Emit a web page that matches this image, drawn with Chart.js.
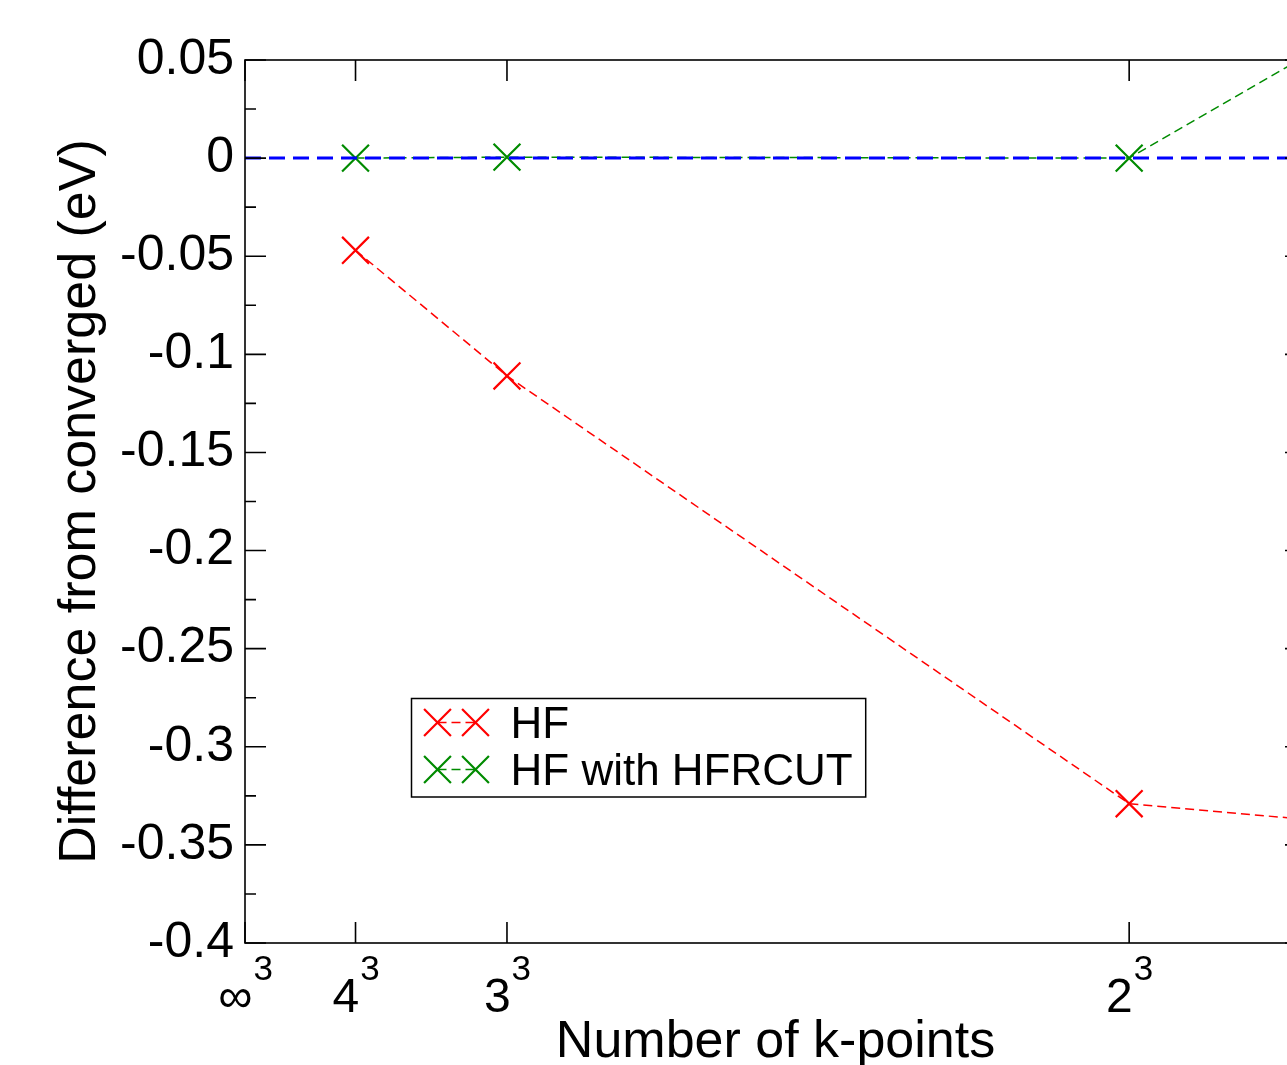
<!DOCTYPE html>
<html><head><meta charset="utf-8">
<script src="https://cdn.jsdelivr.net/npm/chart.js@4/dist/chart.umd.min.js"></script>
<style>
html,body{margin:0;padding:0;background:#fff;overflow:hidden;width:1287px;height:1065px}
canvas{display:block}
</style>
</head><body>
<canvas id="c" width="1320" height="1065" style="width:1320px;height:1065px"></canvas>
<script>
// ---- data ----
const kBase = ['∞', '4', '3', '2'];
const kExp = ['3', '3', '3', '3'];
const kTickX = [0, 0.015625, 0.037037, 0.125];          // 1/k^3
const hfX = [0.015625, 0.037037, 0.125, 1];
const hfY = [-0.047, -0.111, -0.329, -0.61];
const hfcutX = [0.015625, 0.037037, 0.125, 1];
const hfcutY = [0.0, 0.0005, 0.0, 1.82];
const zeroX = [0, 1];
const zeroY = [0, 0];
const yTicks = [-0.4, -0.35, -0.3, -0.25, -0.2, -0.15, -0.1, -0.05, 0, 0.05];
const yTickLabels = ['-0.4', '-0.35', '-0.3', '-0.25', '-0.2', '-0.15', '-0.1', '-0.05', '0', '0.05'];
const seriesLabels = ['HF', 'HF with HFRCUT'];
const xTitle = 'Number of k-points';
const yTitle = 'Difference from converged (eV)';

const FONT = '"Liberation Sans", Arial, Helvetica, sans-serif';
const pts = (xs, ys) => xs.map((x, i) => ({ x: x, y: ys[i] }));

const decor = {
  id: 'decor',
  afterDraw(chart) {
    const { ctx, chartArea: a, scales: { x, y } } = chart;
    ctx.save();
    ctx.strokeStyle = '#000';
    ctx.lineWidth = 1.6;
    ctx.setLineDash([]);
    ctx.strokeRect(a.left, a.top, a.right - a.left, a.bottom - a.top);
    ctx.beginPath();
    yTicks.forEach((v, i) => {
      const py = y.getPixelForValue(v);
      ctx.moveTo(a.left, py); ctx.lineTo(a.left + 21, py);
      ctx.moveTo(a.right, py); ctx.lineTo(a.right - 21, py);
      if (i < yTicks.length - 1) {
        const pm = y.getPixelForValue((v + yTicks[i + 1]) / 2);
        ctx.moveTo(a.left, pm); ctx.lineTo(a.left + 11, pm);
        ctx.moveTo(a.right, pm); ctx.lineTo(a.right - 11, pm);
      }
    });
    kTickX.forEach(v => {
      const px = x.getPixelForValue(v);
      ctx.moveTo(px, a.bottom); ctx.lineTo(px, a.bottom - 21);
      ctx.moveTo(px, a.top); ctx.lineTo(px, a.top + 21);
    });
    ctx.stroke();
    ctx.fillStyle = '#000';
    ctx.textBaseline = 'alphabetic';
    ctx.textAlign = 'left';
    const baseFont = '48px ' + FONT, expFont = '35px ' + FONT;
    kTickX.forEach((v, i) => {
      const px = x.getPixelForValue(v);
      ctx.font = baseFont; const wb = ctx.measureText(kBase[i]).width;
      ctx.font = expFont; const we = ctx.measureText(kExp[i]).width;
      const start = px - (wb + we) / 2;
      ctx.font = baseFont; ctx.fillText(kBase[i], start, a.bottom + 69);
      ctx.font = expFont; ctx.fillText(kExp[i], start + wb + 1, a.bottom + 37);
    });
    const lf = '44px ' + FONT;
    ctx.font = lf;
    const ds = chart.data.datasets.filter(d => d.legendIndex !== undefined)
      .sort((p, q) => p.legendIndex - q.legendIndex);
    let maxW = 0;
    ds.forEach(d => { maxW = Math.max(maxW, ctx.measureText(d.label).width); });
    const bx = a.left + 166.5, by = a.top + 638.5;
    const bw = 99 + maxW + 13, bh = 98.5;
    ctx.fillStyle = '#fff';
    ctx.fillRect(bx, by, bw, bh);
    ctx.strokeStyle = '#000';
    ctx.lineWidth = 1.5;
    ctx.strokeRect(bx, by, bw, bh);
    ds.forEach((d, i) => {
      const cy = by + 24 + i * 47;
      const x1 = bx + 26, x2 = bx + 64;
      ctx.save();
      ctx.strokeStyle = d.borderColor;
      ctx.lineWidth = d.borderWidth;
      ctx.setLineDash(d.borderDash || []);
      ctx.beginPath(); ctx.moveTo(x1, cy); ctx.lineTo(x2, cy); ctx.stroke();
      ctx.setLineDash([]);
      const opt = { pointStyle: d.pointStyle, radius: d.pointRadius, borderWidth: d.pointBorderWidth, rotation: 0 };
      ctx.strokeStyle = d.pointBorderColor; ctx.fillStyle = d.pointBorderColor; ctx.lineWidth = d.pointBorderWidth;
      Chart.helpers.drawPoint(ctx, opt, x1, cy);
      Chart.helpers.drawPoint(ctx, opt, x2, cy);
      ctx.restore();
      ctx.fillStyle = '#000';
      ctx.font = lf;
      ctx.textAlign = 'left';
      ctx.textBaseline = 'alphabetic';
      ctx.fillText(d.label, bx + 99, cy + 15);
    });
    ctx.restore();
  }
};

new Chart(document.getElementById('c'), {
  type: 'scatter',
  data: {
    datasets: [
      {
        label: 'converged', data: pts(zeroX, zeroY), showLine: true,
        borderColor: '#0000ff', borderWidth: 3, borderDash: [16, 8],
        pointRadius: 0, fill: false, order: 0
      },
      {
        label: seriesLabels[1], data: pts(hfcutX, hfcutY), showLine: true,
        borderColor: '#008b00', borderWidth: 1.5, borderDash: [9, 5],
        pointStyle: 'crossRot', pointRadius: 19, pointBorderWidth: 2.2,
        pointBorderColor: '#008b00', pointBackgroundColor: '#008b00',
        fill: false, order: 1, legendIndex: 1
      },
      {
        label: seriesLabels[0], data: pts(hfX, hfY), showLine: true,
        borderColor: '#ff0000', borderWidth: 1.5, borderDash: [9, 5],
        pointStyle: 'crossRot', pointRadius: 19, pointBorderWidth: 2.2,
        pointBorderColor: '#ff0000', pointBackgroundColor: '#ff0000',
        fill: false, order: 2, legendIndex: 0
      }
    ]
  },
  options: {
    responsive: false,
    animation: false,
    devicePixelRatio: 1,
    layout: { autoPadding: false, padding: { top: 60, right: 14, left: 0, bottom: 0 } },
    plugins: { legend: { display: false }, tooltip: { enabled: false } },
    elements: { line: { tension: 0 } },
    scales: {
      x: {
        type: 'linear', min: 0, max: 0.15,
        grid: { display: false, drawTicks: false },
        border: { display: false },
        ticks: { display: false },
        title: { display: true, text: xTitle, color: '#000',
                 font: { family: FONT, size: 52 }, padding: { top: 0, bottom: -9 } },
        afterFit(s) { s.height = 122; s.paddingLeft = 0; s.paddingRight = 0; }
      },
      y: {
        type: 'linear', min: -0.4, max: 0.05,
        afterBuildTicks(s) { s.ticks = yTicks.map(v => ({ value: v })); },
        grid: { display: false, drawTicks: false },
        border: { display: false },
        ticks: { autoSkip: false, padding: 11, color: '#000',
                 font: { family: FONT, size: 50 },
                 callback: (v, i) => yTickLabels[i] },
        title: { display: true, text: yTitle, color: '#000',
                 font: { family: FONT, size: 52 }, padding: { top: 49, bottom: 0 } },
        afterFit(s) { s.width = 245; s.paddingTop = 0; s.paddingBottom = 0; }
      }
    }
  },
  plugins: [decor]
});
</script>
</body></html>
